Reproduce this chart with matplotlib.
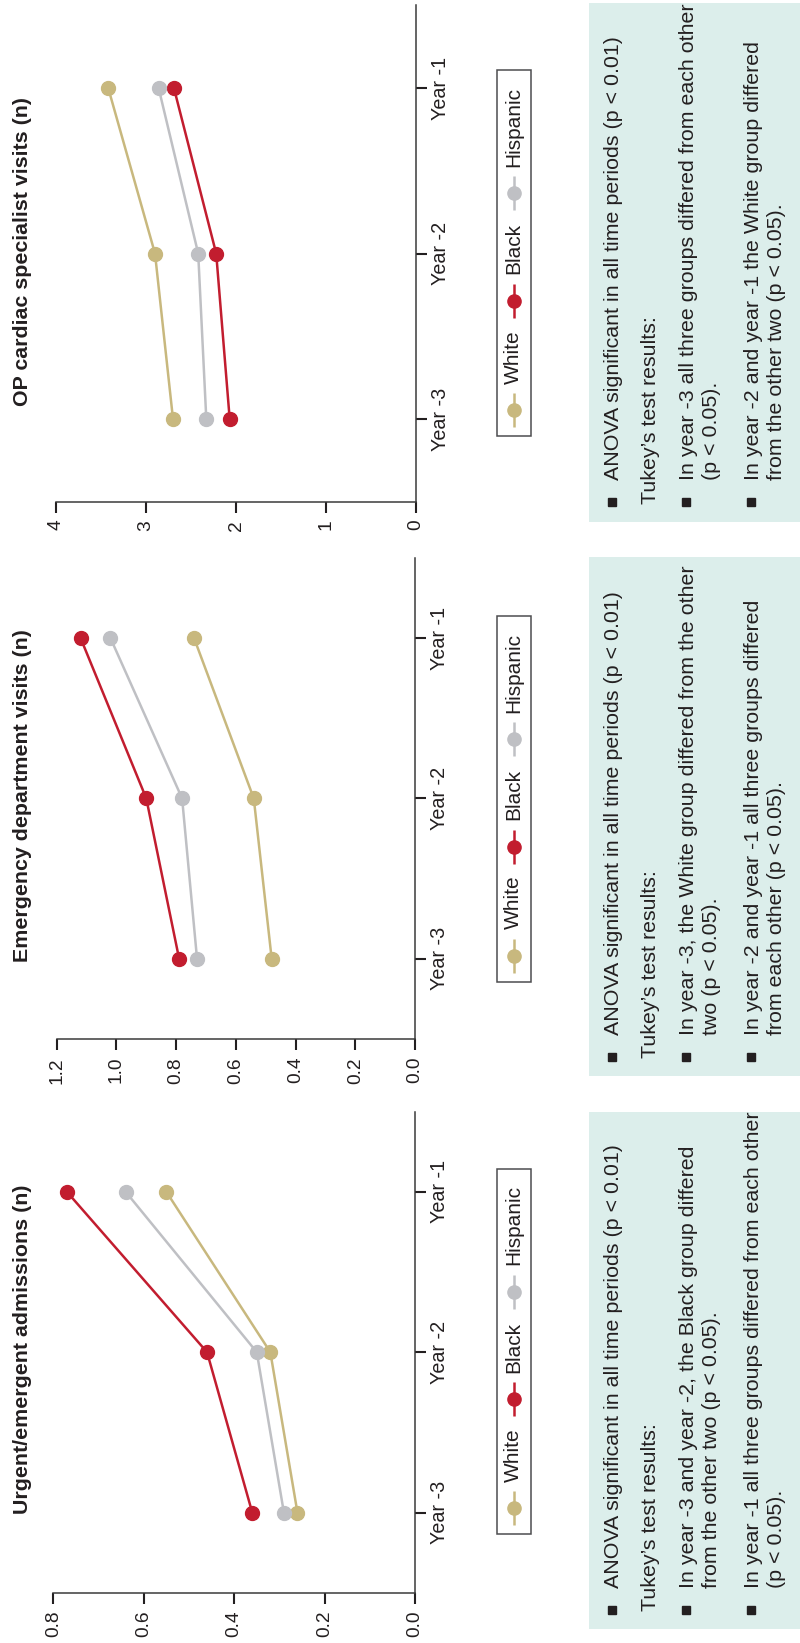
import matplotlib
matplotlib.use("Agg")
import matplotlib.pyplot as plt
from matplotlib.patches import Rectangle

plt.rcParams['font.family'] = ['Liberation Sans', 'DejaVu Sans']

# ---------------------------------------------------------------- data
years = ["Year -3", "Year -2", "Year -1"]
groups = ["White", "Black", "Hispanic"]

urgent_white = [0.26, 0.32, 0.55]
urgent_black = [0.36, 0.46, 0.77]
urgent_hispanic = [0.29, 0.35, 0.64]

ed_white = [0.48, 0.54, 0.74]
ed_black = [0.79, 0.90, 1.12]
ed_hispanic = [0.73, 0.78, 1.02]

op_white = [2.70, 2.90, 3.42]
op_black = [2.07, 2.22, 2.69]
op_hispanic = [2.33, 2.42, 2.86]

urgent_ticks = [0.0, 0.2, 0.4, 0.6, 0.8]
urgent_ticklabels = ["0.0", "0.2", "0.4", "0.6", "0.8"]
ed_ticks = [0.0, 0.2, 0.4, 0.6, 0.8, 1.0, 1.2]
ed_ticklabels = ["0.0", "0.2", "0.4", "0.6", "0.8", "1.0", "1.2"]
op_ticks = [0, 1, 2, 3, 4]
op_ticklabels = ["0", "1", "2", "3", "4"]

urgent_title = "Urgent/emergent admissions (n)"
ed_title = "Emergency department visits (n)"
op_title = "OP cardiac specialist visits (n)"

anova_note = "ANOVA significant in all time periods (p < 0.01)"
tukey_head = "Tukey\u2019s test results:"
urgent_notes = [
    ["In year -3 and year -2, the Black group differed",
     "from the other two (p < 0.05)."],
    ["In year -1 all three groups differed from each other",
     "(p < 0.05)."],
]
ed_notes = [
    ["In year -3, the White group differed from the other",
     "two (p < 0.05)."],
    ["In year -2 and year -1 all three groups differed",
     "from each other (p < 0.05)."],
]
op_notes = [
    ["In year -3 all three groups differed from each other",
     "(p < 0.05)."],
    ["In year -2 and year -1 the White group differed",
     "from the other two (p < 0.05)."],
]

# ---------------------------------------------------------------- style
COLORS = {"White": "#C8B87E", "Black": "#C21D2F", "Hispanic": "#BFC0C4"}
INK = "#231F20"
BOX_BG = "#DCEEEB"
W, H, DPI = 800, 1643, 100

fig = plt.figure(figsize=(W / DPI, H / DPI), dpi=DPI)
fig.patch.set_facecolor("white")

# page-level layer in pixel units (y grows downward)
ov = fig.add_axes([0, 0, 1, 1], zorder=5)
ov.set_xlim(0, W)
ov.set_ylim(H, 0)
ov.axis("off")

panels = [
    dict(series=[op_white, op_black, op_hispanic], ticks=op_ticks,
         ticklabels=op_ticklabels, title=op_title, notes=op_notes,
         box=(56, 416, 5.2, 501.8), title_y=406.4,
         legend=(69.9, 435.7), textbox=(3.4, 521.8)),
    dict(series=[ed_white, ed_black, ed_hispanic], ticks=ed_ticks,
         ticklabels=ed_ticklabels, title=ed_title, notes=ed_notes,
         box=(56.7, 415, 557.9, 1038.9), title_y=962.1,
         legend=(615.7, 981.6), textbox=(556.8, 1076.4)),
    dict(series=[urgent_white, urgent_black, urgent_hispanic],
         ticks=urgent_ticks, ticklabels=urgent_ticklabels,
         title=urgent_title, notes=urgent_notes,
         box=(53.3, 415, 1111.6, 1592.7), title_y=1514.4,
         legend=(1169.3, 1534.0), textbox=(1111.6, 1629.3)),
]

ypos = list(range(len(years)))

for p in panels:
    left, right, top, bottom = p["box"]
    ax = fig.add_axes([left / W, 1 - bottom / H, (right - left) / W,
                       (bottom - top) / H])
    for name, vals in zip(groups, p["series"]):
        c = COLORS[name]
        ax.plot(vals, ypos, color=c, lw=1.8, marker="o", ms=10,
                mfc=c, mec=c, clip_on=False, zorder=3)
    ax.set_xlim(p["ticks"][-1], 0)
    ax.set_ylim(-0.5, len(years) - 0.5)
    ax.spines["top"].set_visible(False)
    ax.spines["left"].set_visible(False)
    for s in ("bottom", "right"):
        ax.spines[s].set_linewidth(1.1)
        ax.spines[s].set_color("#3A3A3A")
    ax.xaxis.set_ticks_position("bottom")
    ax.yaxis.set_ticks_position("right")
    ax.set_xticks(p["ticks"])
    ax.set_xticklabels(p["ticklabels"], rotation=90)
    ax.set_yticks(ypos)
    ax.set_yticklabels(years, rotation=90, va="center")
    ax.tick_params(axis="both", direction="out", length=8, width=1.5,
                   color=INK, labelcolor=INK)
    ax.tick_params(axis="x", pad=5, labelsize=13.8)
    ax.tick_params(axis="y", pad=2.5, labelsize=14.2)
    ax.patch.set_alpha(0)

    # panel title, reading upward
    ov.text(22.5, p["title_y"], p["title"], rotation=90, ha="center",
            va="bottom", fontsize=15.4, fontweight="bold", color=INK)

    # legend
    ltop, lbot = p["legend"]
    ov.add_patch(Rectangle((497.3, ltop), 530.7 - 497.3, lbot - ltop,
                           fill=False, edgecolor="#4D4D4F", lw=1.1))
    for name, off in zip(groups, [25.7, 134.7, 242.3]):
        m = lbot - off
        c = COLORS[name]
        ov.plot([514.2, 514.2], [m + 17, m - 17], color=c, lw=1.8,
                solid_capstyle="butt")
        ov.plot([514.2], [m], marker="o", ms=9.5, color=c, mec=c)
        ov.text(513.3, m - 26.5, name, rotation=90, ha="center",
                va="bottom", fontsize=15.0, color=INK)

    # notes box
    btop, bbot = p["textbox"]
    ov.add_patch(Rectangle((589, btop), W - 589 + 2, bbot - btop,
                           facecolor=BOX_BG, edgecolor="none", zorder=0))
    start = bbot - 41.3
    bullet_y = bbot - 19.7
    ov.plot([611.7, 686.0, 751.0], [bullet_y] * 3, ls="none", marker="s",
            ms=5.2, color=INK)
    ov.text(613.3, start, anova_note, rotation=90, ha="center", va="bottom",
            fontsize=15.4, color=INK)
    ov.text(650.0, bbot - 18, tukey_head, rotation=90, ha="center",
            va="bottom", fontsize=15.4, color=INK)
    for lines, xs in zip(p["notes"], [(688.3, 711.7), (753.3, 776.7)]):
        for line, x in zip(lines, xs):
            ov.text(x, start, line, rotation=90, ha="center", va="bottom",
                    fontsize=15.4, color=INK)

fig.savefig("out.png", dpi=DPI)
